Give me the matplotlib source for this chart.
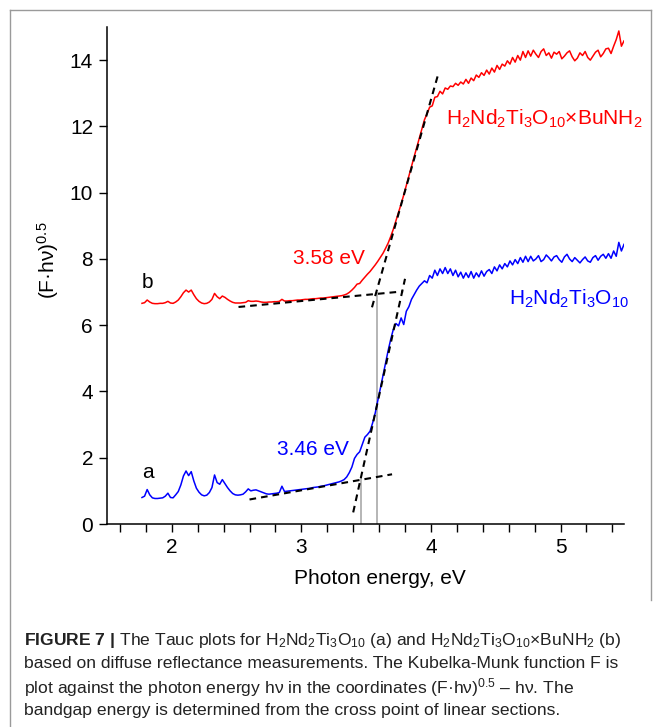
import matplotlib
matplotlib.use("Agg")
import matplotlib.pyplot as plt
from matplotlib.lines import Line2D
from matplotlib.ticker import MultipleLocator

plt.rcParams['font.family'] = ['Liberation Sans', 'DejaVu Sans']
plt.rcParams['mathtext.fontset'] = 'custom'
plt.rcParams['mathtext.rm'] = 'Liberation Sans'
plt.rcParams['mathtext.it'] = 'Liberation Sans:italic'
plt.rcParams['mathtext.bf'] = 'Liberation Sans:bold'
plt.rcParams['mathtext.default'] = 'regular'

# ---------------- data ----------------
energy = [
    1.77, 1.79, 1.81, 1.83, 1.85, 1.87, 1.89, 1.91, 1.93, 1.95,
    1.97, 1.99, 2.01, 2.03, 2.05, 2.07, 2.09, 2.11, 2.13, 2.15,
    2.17, 2.19, 2.21, 2.23, 2.25, 2.27, 2.29, 2.31, 2.33, 2.35,
    2.37, 2.39, 2.41, 2.43, 2.45, 2.47, 2.49, 2.51, 2.53, 2.55,
    2.57, 2.59, 2.61, 2.63, 2.65, 2.67, 2.69, 2.71, 2.73, 2.75,
    2.77, 2.79, 2.81, 2.83, 2.85, 2.87, 2.89, 2.91, 2.93, 2.95,
    2.97, 2.99, 3.01, 3.03, 3.05, 3.07, 3.09, 3.11, 3.13, 3.15,
    3.17, 3.19, 3.21, 3.23, 3.25, 3.27, 3.29, 3.31, 3.33, 3.35,
    3.37, 3.39, 3.41, 3.43, 3.45, 3.47, 3.49, 3.51, 3.53, 3.55,
    3.57, 3.59, 3.61, 3.63, 3.65, 3.67, 3.69, 3.71, 3.73, 3.75,
    3.77, 3.79, 3.81, 3.83, 3.85, 3.87, 3.89, 3.91, 3.93, 3.95,
    3.97, 3.99, 4.01, 4.03, 4.05, 4.07, 4.09, 4.11, 4.13, 4.15,
    4.17, 4.19, 4.21, 4.23, 4.25, 4.27, 4.29, 4.31, 4.33, 4.35,
    4.37, 4.39, 4.41, 4.43, 4.45, 4.47, 4.49, 4.51, 4.53, 4.55,
    4.57, 4.59, 4.61, 4.63, 4.65, 4.67, 4.69, 4.71, 4.73, 4.75,
    4.77, 4.79, 4.81, 4.83, 4.85, 4.87, 4.89, 4.91, 4.93, 4.95,
    4.97, 4.99, 5.01, 5.03, 5.05, 5.07, 5.09, 5.11, 5.13, 5.15,
    5.17, 5.19, 5.21, 5.23, 5.25, 5.27, 5.29, 5.31, 5.33, 5.35,
    5.37, 5.39, 5.41, 5.43, 5.45, 5.47, 5.49,
]

# (b) H2Nd2Ti3O10 x BuNH2  (red)
tauc_b = [
    6.66, 6.68, 6.76, 6.70, 6.66, 6.65, 6.65, 6.66, 6.66, 6.68,
    6.72, 6.67, 6.66, 6.70, 6.76, 6.86, 6.98, 7.06, 7.00, 7.06,
    6.92, 6.80, 6.72, 6.67, 6.65, 6.66, 6.70, 6.78, 6.96, 6.86,
    6.80, 6.88, 6.84, 6.78, 6.73, 6.69, 6.67, 6.67, 6.67, 6.68,
    6.69, 6.74, 6.72, 6.72, 6.73, 6.72, 6.70, 6.69, 6.69, 6.70,
    6.70, 6.71, 6.71, 6.72, 6.78, 6.73, 6.73, 6.74, 6.74, 6.75,
    6.76, 6.76, 6.77, 6.78, 6.78, 6.79, 6.80, 6.80, 6.81, 6.82,
    6.82, 6.83, 6.84, 6.85, 6.86, 6.87, 6.88, 6.89, 6.91, 6.94,
    6.99, 7.06, 7.14, 7.24, 7.26, 7.36, 7.45, 7.54, 7.62, 7.72,
    7.82, 7.93, 8.05, 8.17, 8.32, 8.48, 8.68, 8.90, 9.15, 9.40,
    9.66, 9.93, 10.22, 10.51, 10.80, 11.08, 11.36, 11.64, 11.92, 12.20,
    12.38, 12.58, 12.62, 12.88, 12.90, 13.06, 12.98, 13.16, 13.12, 13.22,
    13.20, 13.30, 13.24, 13.34, 13.28, 13.42, 13.30, 13.46, 13.38, 13.55,
    13.48, 13.62, 13.54, 13.70, 13.58, 13.76, 13.64, 13.84, 13.72, 13.88,
    13.82, 13.98, 13.88, 14.08, 13.94, 14.14, 14.00, 14.26, 14.08, 14.28,
    14.12, 14.30, 14.18, 14.08, 14.26, 14.34, 14.14, 14.22, 14.06, 14.24,
    14.18, 14.26, 14.04, 14.12, 14.22, 14.28, 14.10, 13.98, 14.06, 14.22,
    14.14, 14.26, 14.08, 14.00, 14.12, 14.24, 14.30, 14.10, 14.20, 14.34,
    14.36, 14.20, 14.42, 14.62, 14.88, 14.42, 14.58,
]

# (a) H2Nd2Ti3O10  (blue)
tauc_a = [
    0.80, 0.84, 1.04, 0.88, 0.79, 0.77, 0.77, 0.78, 0.79, 0.84,
    0.93, 0.80, 0.79, 0.88, 0.98, 1.18, 1.45, 1.60, 1.46, 1.58,
    1.30, 1.08, 0.96, 0.88, 0.85, 0.87, 0.95, 1.10, 1.48, 1.25,
    1.20, 1.34, 1.22, 1.10, 1.00, 0.92, 0.88, 0.87, 0.88, 0.90,
    0.97, 1.06, 1.00, 1.02, 1.03, 1.00, 0.97, 0.94, 0.91, 0.90,
    0.91, 0.92, 0.93, 0.95, 1.14, 0.98, 0.99, 1.00, 1.01, 1.02,
    1.03, 1.04, 1.05, 1.06, 1.07, 1.08, 1.10, 1.11, 1.12, 1.14,
    1.15, 1.17, 1.19, 1.21, 1.23, 1.25, 1.27, 1.30, 1.34, 1.42,
    1.55, 1.72, 1.98, 2.10, 2.18, 2.40, 2.62, 2.70, 2.80, 3.05,
    3.35, 3.72, 4.10, 4.48, 4.86, 5.24, 5.58, 5.88, 6.05, 5.98,
    6.22, 6.02, 6.42, 6.56, 6.78, 6.92, 7.06, 7.18, 7.26, 7.34,
    7.28, 7.50, 7.42, 7.66, 7.50, 7.70, 7.56, 7.74, 7.56, 7.70,
    7.50, 7.66, 7.46, 7.60, 7.42, 7.58, 7.44, 7.62, 7.42, 7.58,
    7.46, 7.64, 7.48, 7.62, 7.68, 7.56, 7.76, 7.64, 7.82, 7.70,
    7.86, 7.76, 7.94, 7.82, 7.98, 7.86, 8.04, 7.90, 8.08, 7.92,
    8.08, 7.94, 8.00, 8.10, 7.92, 7.98, 8.12, 8.04, 7.94, 8.06,
    8.10, 7.98, 7.90, 8.06, 8.14, 8.00, 7.92, 8.04, 7.96, 7.88,
    7.98, 8.06, 7.94, 7.90, 8.04, 8.10, 7.96, 8.08, 8.14, 8.02,
    8.16, 8.02, 8.24, 8.08, 8.50, 8.24, 8.44,
]

# tangent (linear-section) lines: [x0, x1], [y0, y1]
fit_b_base_x = [2.515, 3.785]
fit_b_base_y = [6.55, 7.02]
fit_b_edge_x = [3.545, 4.06]
fit_b_edge_y = [6.54, 13.63]
fit_a_base_x = [2.60, 3.70]
fit_a_base_y = [0.74, 1.50]
fit_a_edge_x = [3.40, 3.80]
fit_a_edge_y = [0.35, 7.40]

# band gaps and the heights of the cross points
gap_energies = [3.46, 3.58]
gap_heights = [1.38, 6.97]
gap_labels = ['3.46 eV', '3.58 eV']

xticks = [2, 3, 4, 5]
yticks = [0, 2, 4, 6, 8, 10, 12, 14]

RED = '#ff0000'
BLUE = '#0000ff'

fig = plt.figure(figsize=(6.59, 7.27), dpi=100)
W, H = 659, 727
ax = fig.add_axes([107 / W, 1 - 524 / H, (624 - 107) / W, (524 - 27) / H])

# gray drop lines
for e, h in zip(gap_energies, gap_heights):
    ax.plot([e, e], [0, h], color='#b0b0b0', lw=1.3, zorder=1)

ax.plot(energy, tauc_b, color=RED, lw=1.1, zorder=2)
ax.plot(energy, tauc_a, color=BLUE, lw=1.1, zorder=2)

dash = dict(color='black', lw=1.5, ls=(0, (3.2, 2.4)), zorder=3)
ax.plot(fit_b_base_x, fit_b_base_y, **dash)
ax.plot(fit_b_edge_x, fit_b_edge_y, **dash)
ax.plot(fit_a_base_x, fit_a_base_y, **dash)
ax.plot(fit_a_edge_x, fit_a_edge_y, **dash)

ax.set_xlim(1.5, 5.49)
ax.set_ylim(0, 15)
for s in ['top', 'right']:
    ax.spines[s].set_visible(False)
for s in ['left', 'bottom']:
    ax.spines[s].set_linewidth(1.1)

ax.set_xticks(xticks)
ax.set_yticks(yticks)
ax.xaxis.set_minor_locator(MultipleLocator(0.2))
ax.tick_params(axis='both', which='both', direction='out', width=1.0,
               labelsize=15, pad=4)
ax.tick_params(axis='both', which='major', length=6)
ax.tick_params(axis='x', which='minor', length=6)

fs = 15
ax.text(1.815, 7.13, 'b', color='black', fontsize=fs, ha='center', va='baseline')
ax.text(1.815, 1.39, 'a', color='black', fontsize=fs, ha='center', va='baseline')
ax.text(2.933, 7.85, gap_labels[1], color=RED, fontsize=fs, ha='left', va='baseline')
ax.text(2.81, 2.08, gap_labels[0], color=BLUE, fontsize=fs, ha='left', va='baseline')
ax.text(4.118, 12.05, r'H$_2$Nd$_2$Ti$_3$O$_{10}$×BuNH$_2$', color=RED,
        fontsize=fs, ha='left', va='baseline')
ax.text(4.606, 6.62, r'H$_2$Nd$_2$Ti$_3$O$_{10}$', color=BLUE,
        fontsize=fs, ha='left', va='baseline')

ax.text(0.528, -0.109, 'Photon energy, eV', transform=ax.transAxes,
        fontsize=fs, ha='center', va='center')
ax.text(-0.114, 0.53, r'(F·hν)$^{0.5}$', transform=ax.transAxes,
        fontsize=fs, ha='center', va='center', rotation=90)

# frame around figure
fc = '#9a9a9a'
def fl(x0, y0, x1, y1):
    fig.add_artist(Line2D([x0 / W, x1 / W], [1 - y0 / H, 1 - y1 / H],
                          color=fc, lw=1.0, transform=fig.transFigure))
fl(9.5, 10, 651, 10)
fl(9.5, 10, 9.5, 727)
fl(651, 10, 651, 600)

# caption
cfs = 12.6
cap = [
    r'$\mathbf{FIGURE\ 7\ |}$ The Tauc plots for H$_2$Nd$_2$Ti$_3$O$_{10}$ (a) and H$_2$Nd$_2$Ti$_3$O$_{10}$×BuNH$_2$ (b)',
    'based on diffuse reflectance measurements. The Kubelka-Munk function F is',
    r'plot against the photon energy hν in the coordinates (F·hν)$^{0.5}$ – hν. The',
    'bandgap energy is determined from the cross point of linear sections.',
]
cap_y = [640, 664, 688, 711]
for t, y in zip(cap, cap_y):
    fig.text(24 / W, 1 - y / H, t, fontsize=cfs, color='#222222',
             ha='left', va='center')

fig.savefig('out.png', dpi=100)
